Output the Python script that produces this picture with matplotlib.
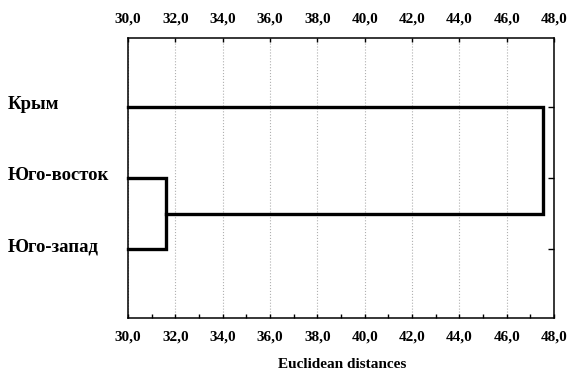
import matplotlib.pyplot as plt
import matplotlib.transforms as mtransforms
import numpy as np

plt.rcParams['font.family'] = ['Liberation Serif', 'DejaVu Serif']
plt.rcParams['font.weight'] = 'bold'

# Data
leaves = ['Крым', 'Юго-восток', 'Юго-запад']
leaf_pos = [1, 2, 3]
d_merge1 = 31.6   # Юго-восток + Юго-запад
d_merge2 = 47.55  # Крым + (Юго-восток, Юго-запад)
x_start = 30.0

fig = plt.figure(figsize=(5.67, 3.74), dpi=100)
ax = fig.add_axes([128 / 567, 1 - 318 / 374, (554 - 128) / 567, (318 - 38) / 374])

lw = 2.4
# first cluster
y_a, y_b = leaf_pos[1], leaf_pos[2]
ax.plot([x_start, d_merge1, d_merge1, x_start], [y_a, y_a, y_b, y_b], color='black', lw=lw,
        solid_joinstyle='miter', clip_on=False)
y_mid = (y_a + y_b) / 2
# second cluster
y_k = leaf_pos[0]
ax.plot([x_start, d_merge2, d_merge2, d_merge1], [y_k, y_k, y_mid, y_mid], color='black', lw=lw,
        solid_joinstyle='miter', clip_on=False)

ax.set_xlim(30, 48)
ax.set_ylim(3.97, 0.03)
ax.set_xticks(np.arange(30, 48.1, 2))
ax.set_xticks(np.arange(30, 48.1, 1), minor=True)
ax.set_xticklabels([f'{v:.1f}'.replace('.', ',') for v in np.arange(30, 48.1, 2)])
ax.tick_params(axis='x', which='both', direction='in', top=True, labeltop=True,
               labelsize=11, length=3, width=1, pad=9)
ax.tick_params(axis='x', which='minor', top=False, length=3)
ax.grid(axis='x', which='major', color='#b0b0b0', linestyle=':', lw=0.8)

ax.set_yticks(leaf_pos)
ax.yaxis.tick_right()
ax.tick_params(axis='y', direction='in', length=4, width=1, labelright=False)

for sp in ax.spines.values():
    sp.set_linewidth(1.1)

trans = mtransforms.blended_transform_factory(fig.transFigure, ax.transData)
for name, y in zip(leaves, leaf_pos):
    ax.text(8 / 567, y - 0.03, name, transform=trans, ha='left', va='center', fontsize=13.5,
            fontweight='bold')

fig.text(342 / 567, 1 - 365 / 374, 'Euclidean distances', ha='center', va='center',
         fontsize=11, fontweight='bold')

plt.savefig('out.png', dpi=100)
